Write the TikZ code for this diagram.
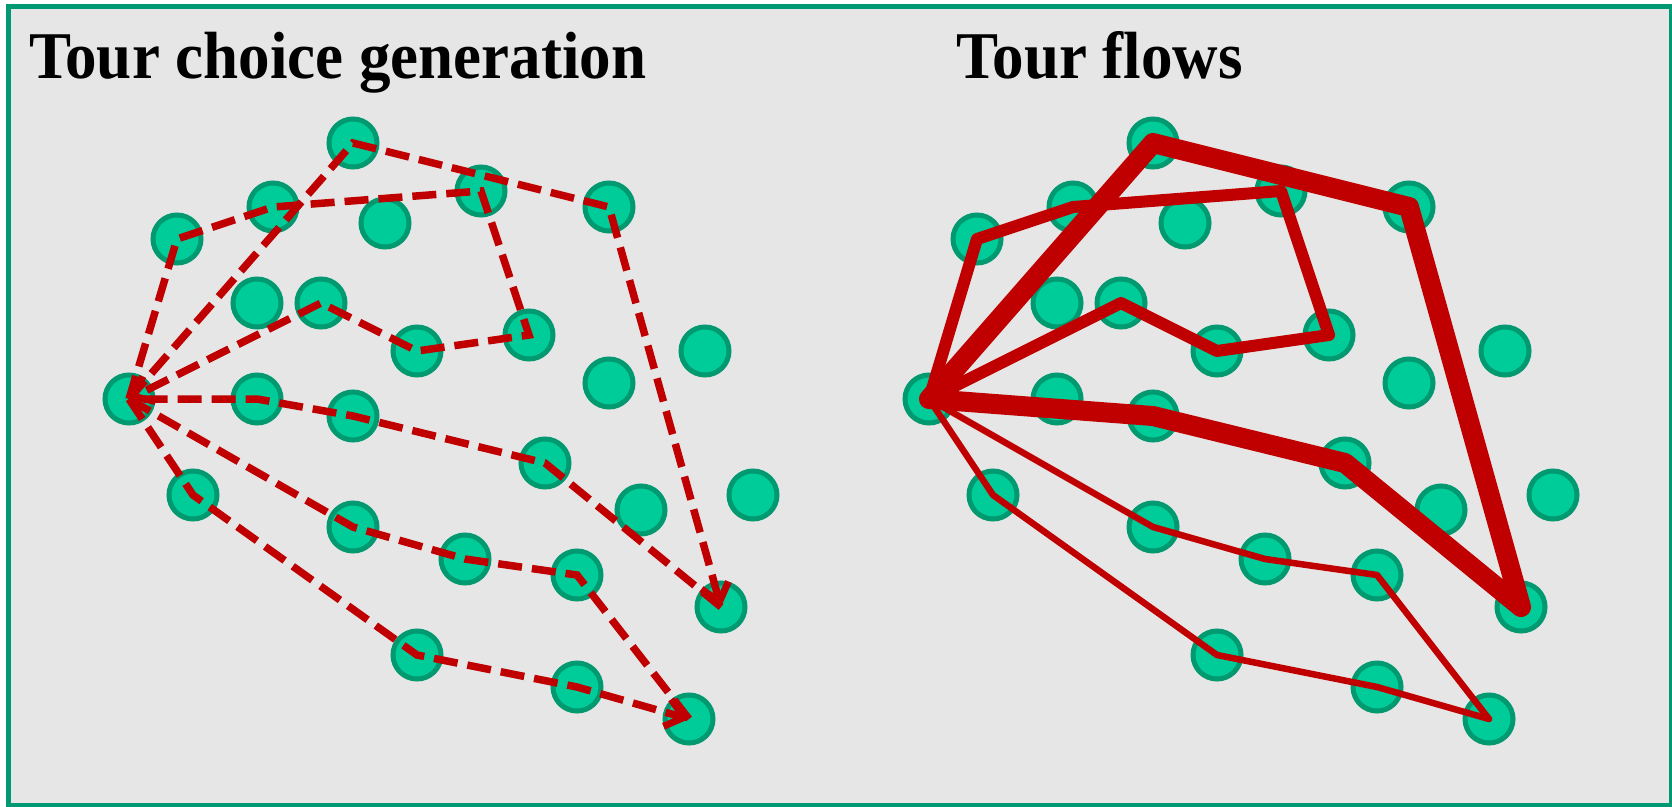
\documentclass[tikz,border=0pt]{standalone}
\usepackage{fontspec}
\setmainfont{Liberation Serif}
\usetikzlibrary{arrows.meta}
\definecolor{bggray}{HTML}{E6E6E6}
\definecolor{frameg}{HTML}{009973}
\definecolor{dotfill}{HTML}{00CC99}
\definecolor{dotdraw}{HTML}{009970}
\definecolor{tourred}{HTML}{C00000}
\tikzset{
  dot/.style={circle, fill=dotfill, draw=dotdraw, line width=5pt, minimum size=48pt, inner sep=0pt},
  tourdash/.style={draw=tourred, line width=7.5pt, dash pattern=on 24pt off 10pt, line join=miter},
  tourtip/.style={-{Straight Barb[length=17pt,width=28pt,line width=7pt]}},
  flow/.style={draw=tourred, line join=round, line cap=round},
  title/.style={anchor=base west, inner sep=0pt, yscale=1.06, font=\fontsize{63}{70}\selectfont\bfseries}
}
\newcommand\placedots[2]{%
  \foreach \n/\x/\y in {1/353/143, 2/273/207, 3/177/239, 4/385/223, 5/481/191, 6/609/207,
      7/257/303, 8/321/303, 9/417/351, 10/529/335, 11/705/351, 12/609/383,
      13/129/399, 14/257/399, 15/353/416, 16/545/463, 17/193/495, 18/641/510,
      19/753/495, 20/353/527, 21/465/559, 22/577/575, 23/721/607, 24/417/655,
      25/577/687, 26/689/719}
    {\node[dot] (#1\n) at (\x+#2,\y) {};}%
}
\begin{document}
\begin{tikzpicture}[x=1pt, y=-1pt]
\useasboundingbox (0,0) rectangle (1672,806);
\clip (0,0) rectangle (1672,806);
\fill[white] (0,0) rectangle (1672,806);
\draw[fill=bggray, draw=frameg, line width=5pt] (8.5,6.5) rectangle (1671.5,805.5);

\node[title] (t1) at (29,78) {Tour choice generation};
\node[title] (t2) at (956,78) {Tour flows};

\placedots{L}{0}
\placedots{R}{800}

% Left panel: dashed tours
\draw[tourdash, tourtip] (L13.center) -- (L3.center) -- (L2.center) -- (L5.center) -- (L10.center) -- (L9.center) -- (L8.center) -- (L13.center);
\draw[tourdash, tourtip] (L13.center) -- (L1.center) -- (L6.center) -- (L23.center);
\draw[tourdash] (L23.center) -- (L16.center) -- (L15.center) -- (L14.center) -- (L13.center);
\draw[tourdash] (L13.center) -- (L20.center) -- (L21.center) -- (L22.center) -- (L26.center);
\draw[tourdash, tourtip] (L13.center) -- (L17.center) -- (L24.center) -- (L25.center) -- (L26.center);

% Right panel: flows
\draw[flow, line width=6.5pt] (R13.center) -- (R20.center) -- (R21.center) -- (R22.center) -- (R26.center) -- (R25.center) -- (R24.center) -- (R17.center) -- (R13.center);
\draw[flow, line width=12pt] (R13.center) -- (R3.center) -- (R2.center) -- (R5.center) -- (R10.center) -- (R9.center) -- (R8.center) -- (R13.center);
\draw[flow, line width=20pt] (R13.center) -- (R1.center) -- (R6.center) -- (R23.center) -- (R16.center) -- (R15.center) -- (R13.center);
\end{tikzpicture}
\end{document}
